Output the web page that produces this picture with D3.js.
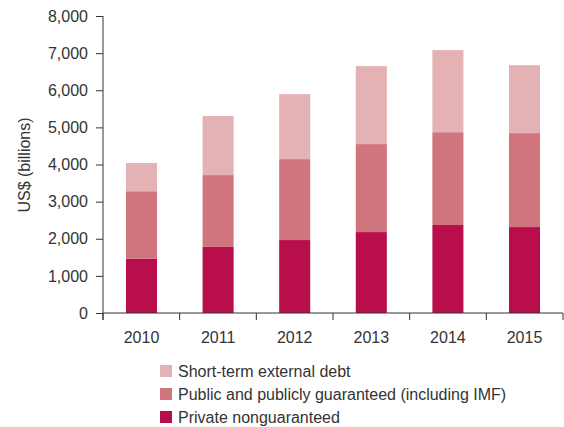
<!DOCTYPE html>
<meta charset="utf-8">
<script src="https://d3js.org/d3.v7.min.js"></script>
<style>
  body { margin: 0; padding: 0; background: #fff; overflow: hidden; }
  text { font-family: "Liberation Sans", Arial, sans-serif; fill: #333; }
</style>
<div id="chart"></div>
<script>
  // values, US$ billions
  const years = ["2010", "2011", "2012", "2013", "2014", "2015"];
  const privateDebt = [1460, 1780, 1965, 2180, 2370, 2315];
  const publicDebt = [1820, 1935, 2180, 2370, 2500, 2530];
  const shortTerm = [760, 1590, 1750, 2100, 2210, 1830];
  const yTicks = [0, 1000, 2000, 3000, 4000, 5000, 6000, 7000, 8000];

  const seriesNames = ["Private nonguaranteed", "Public and publicly guaranteed (including IMF)", "Short-term external debt"];
  const colors = ["#b80e4b", "#d0747e", "#e4b2b5"];

  const WIDTH = 564, HEIGHT = 427;
  const M = { left: 103, right: 563, top: 16, bottom: 313 };

  const rows = years.map((y, i) => ({
    year: y,
    [seriesNames[0]]: privateDebt[i],
    [seriesNames[1]]: publicDebt[i],
    [seriesNames[2]]: shortTerm[i]
  }));
  const stacked = d3.stack().keys(seriesNames)(rows);

  const svg = d3.select("#chart").append("svg")
    .attr("width", WIDTH)
    .attr("height", HEIGHT);

  const x = d3.scaleBand().domain(years).range([M.left, M.right]).paddingInner(0.595).paddingOuter(0.3);
  const y = d3.scaleLinear().domain([0, 8000]).range([M.bottom, M.top]);

  svg.append("g")
    .selectAll("g")
    .data(stacked)
    .join("g")
    .attr("fill", (d, i) => colors[i])
    .selectAll("rect")
    .data(d => d)
    .join("rect")
    .attr("x", d => x(d.data.year))
    .attr("width", x.bandwidth())
    .attr("y", d => y(d[1]))
    .attr("height", d => y(d[0]) - y(d[1]));

  // y axis
  const yAxis = svg.append("g")
    .attr("transform", `translate(${M.left},0)`)
    .call(d3.axisLeft(y).tickValues(yTicks).tickFormat(d3.format(",")).tickSizeOuter(0).tickSize(7).tickPadding(8));
  yAxis.select(".domain").attr("d", `M0,${M.top}V${M.bottom + 7}`);

  // x axis with ticks on category boundaries
  const xAxis = svg.append("g").attr("transform", `translate(0,${M.bottom})`);
  xAxis.append("path")
    .attr("d", `M${M.left},0H${M.right}`)
    .attr("stroke", "#333").attr("fill", "none");
  const step = (M.right - M.left) / years.length;
  xAxis.selectAll("line.bound")
    .data(d3.range(years.length + 1))
    .join("line")
    .attr("class", "bound")
    .attr("x1", i => M.left + i * step).attr("x2", i => M.left + i * step)
    .attr("y1", 0).attr("y2", 7)
    .attr("stroke", "#333");
  xAxis.selectAll("text")
    .data(years)
    .join("text")
    .attr("x", d => x(d) + x.bandwidth() / 2)
    .attr("y", 30)
    .attr("text-anchor", "middle")
    .style("font-size", "16px")
    .text(d => d);

  svg.selectAll(".tick line").attr("stroke", "#333");
  svg.selectAll(".domain").attr("stroke", "#333");
  yAxis.selectAll("text").style("font-size", "16px").style("fill", "#333");

  svg.append("text")
    .attr("transform", "translate(30,165) rotate(-90)")
    .attr("text-anchor", "middle")
    .style("font-size", "16px")
    .text("US$ (billions)");

  // legend, top entry = top of stack
  const legend = svg.append("g").attr("transform", "translate(160,365)");
  const legendItems = seriesNames.map((n, i) => ({ name: n, color: colors[i] })).reverse();
  const item = legend.selectAll("g")
    .data(legendItems)
    .join("g")
    .attr("transform", (d, i) => `translate(0,${i * 23})`);
  item.append("rect")
    .attr("width", 12).attr("height", 12)
    .attr("fill", d => d.color);
  item.append("text")
    .attr("x", 18).attr("y", 11.5)
    .style("font-size", "16px")
    .text(d => d.name);
</script>
